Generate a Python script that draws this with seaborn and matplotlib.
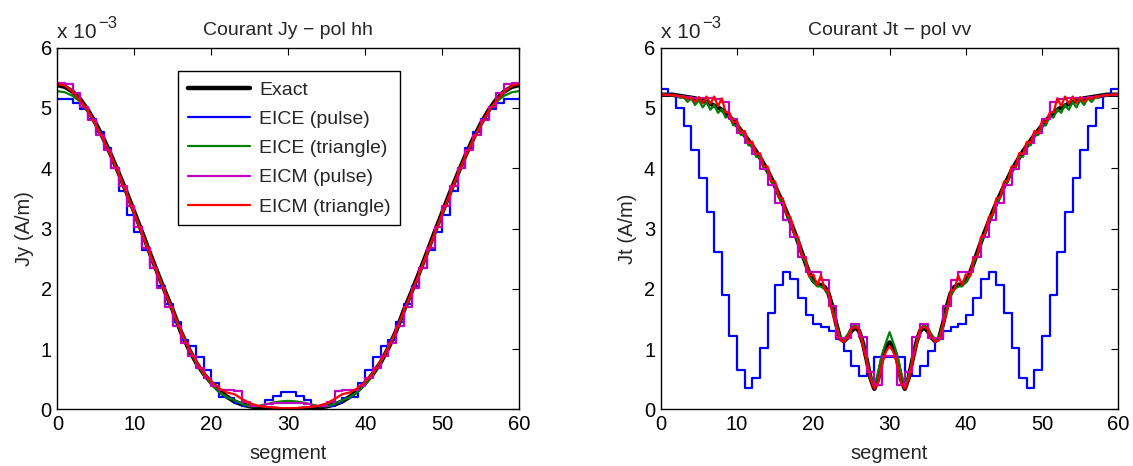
import matplotlib
matplotlib.use("Agg")
import matplotlib.pyplot as plt
import seaborn as sns

# ---------------- data (values in units of 1e-3 A/m) ----------------
nodes = list(range(61))                      # integer segment nodes 0..60
edges = list(range(61))                      # pulse edges
half_nodes = [i * 0.5 for i in range(121)]   # half-segment nodes 0..60

left_exact = [5.38, 5.35, 5.27, 5.14, 4.96, 4.74, 4.49, 4.21, 3.91, 3.60, 3.27, 2.94, 2.60, 2.27, 1.95, 1.64,
              1.30, 1.02, 0.78, 0.59, 0.44, 0.31, 0.21, 0.13, 0.08, 0.05, 0.03, 0.02, 0.01, 0.00, 0.00,
              0.00, 0.01, 0.02, 0.03, 0.05, 0.08, 0.13, 0.21, 0.31, 0.44, 0.59, 0.78, 1.02, 1.30, 1.64,
              1.95, 2.27, 2.60, 2.94, 3.27, 3.60, 3.91, 4.21, 4.49, 4.74, 4.96, 5.14, 5.27, 5.35, 5.38]
left_eice_pulse = [5.15, 5.15, 5.08, 4.98, 4.82, 4.60, 4.33, 4.00, 3.62, 3.22, 2.95, 2.65, 2.35, 2.05, 1.75,
                   1.45, 1.15, 1.05, 0.86, 0.65, 0.43, 0.20, 0.18, 0.10, 0.06, 0.06, 0.06, 0.15, 0.22, 0.28,
                   0.28, 0.22, 0.15, 0.06, 0.06, 0.06, 0.10, 0.18, 0.20, 0.43, 0.65, 0.86, 1.05, 1.15, 1.45,
                   1.75, 2.05, 2.35, 2.65, 2.95, 3.22, 3.62, 4.00, 4.33, 4.60, 4.82, 4.98, 5.08, 5.15, 5.15]
left_eice_tri = [5.28, 5.26, 5.20, 5.10, 4.94, 4.73, 4.48, 4.20, 3.90, 3.58, 3.25, 2.92, 2.58, 2.25, 1.93, 1.62,
                 1.30, 1.02, 0.78, 0.58, 0.42, 0.29, 0.20, 0.15, 0.09, 0.05, 0.05, 0.08, 0.11, 0.13, 0.14,
                 0.13, 0.11, 0.08, 0.05, 0.05, 0.09, 0.15, 0.20, 0.29, 0.42, 0.58, 0.78, 1.02, 1.30, 1.62,
                 1.93, 2.25, 2.58, 2.92, 3.25, 3.58, 3.90, 4.20, 4.48, 4.73, 4.94, 5.10, 5.20, 5.26, 5.28]
left_eicm_pulse = [5.42, 5.40, 5.25, 5.02, 4.80, 4.55, 4.30, 4.00, 3.70, 3.38, 3.02, 2.68, 2.35, 2.02, 1.70,
                   1.38, 1.10, 0.88, 0.68, 0.52, 0.38, 0.32, 0.32, 0.30, 0.12, 0.06, 0.06, 0.08, 0.10, 0.10,
                   0.10, 0.10, 0.08, 0.06, 0.06, 0.12, 0.30, 0.32, 0.32, 0.38, 0.52, 0.68, 0.88, 1.10, 1.38,
                   1.70, 2.02, 2.35, 2.68, 3.02, 3.38, 3.70, 4.00, 4.30, 4.55, 4.80, 5.02, 5.25, 5.40, 5.42]
left_eicm_tri = [5.40, 5.37, 5.27, 5.12, 4.95, 4.72, 4.47, 4.20, 3.90, 3.58, 3.25, 2.92, 2.59, 2.26, 1.94, 1.63,
                 1.31, 1.03, 0.80, 0.60, 0.46, 0.35, 0.28, 0.25, 0.17, 0.10, 0.06, 0.04, 0.03, 0.02, 0.02,
                 0.02, 0.03, 0.04, 0.06, 0.10, 0.17, 0.25, 0.28, 0.35, 0.46, 0.60, 0.80, 1.03, 1.31, 1.63,
                 1.94, 2.26, 2.59, 2.92, 3.25, 3.58, 3.90, 4.20, 4.47, 4.72, 4.95, 5.12, 5.27, 5.37, 5.40]

right_exact = [5.22, 5.22, 5.22, 5.22, 5.21, 5.20, 5.19, 5.18, 5.17, 5.16, 5.14, 5.12, 5.10, 5.07, 5.04, 5.01,
               4.97, 4.92, 4.86, 4.79, 4.71, 4.63, 4.55, 4.46, 4.37, 4.28, 4.18, 4.07, 3.96, 3.83, 3.70, 3.56,
               3.42, 3.27, 3.11, 2.95, 2.78, 2.60, 2.42, 2.25, 2.13, 2.08, 2.06, 2.03, 1.92, 1.70, 1.42, 1.18,
               1.13, 1.19, 1.30, 1.36, 1.30, 1.10, 0.82, 0.52, 0.34, 0.50, 0.82, 1.03, 1.11,
               1.03, 0.82, 0.50, 0.34, 0.52, 0.82, 1.10, 1.30, 1.36, 1.30, 1.19, 1.13, 1.18, 1.42, 1.70, 1.92,
               2.03, 2.06, 2.08, 2.13, 2.25, 2.42, 2.60, 2.78, 2.95, 3.11, 3.27, 3.42, 3.56, 3.70, 3.83, 3.96,
               4.07, 4.18, 4.28, 4.37, 4.46, 4.55, 4.63, 4.71, 4.79, 4.86, 4.92, 4.97, 5.01, 5.04, 5.07, 5.10,
               5.12, 5.14, 5.16, 5.17, 5.18, 5.19, 5.20, 5.21, 5.22, 5.22, 5.22, 5.22]
right_eice_pulse = [5.31, 5.21, 5.00, 4.70, 4.31, 3.84, 3.27, 2.61, 1.89, 1.21, 0.66, 0.35, 0.52, 1.01, 1.59,
                    2.07, 2.27, 2.16, 1.85, 1.57, 1.42, 1.37, 1.30, 1.16, 0.97, 0.72, 0.56, 0.62, 0.86, 0.86,
                    0.86, 0.86, 0.62, 0.56, 0.72, 0.97, 1.16, 1.30, 1.37, 1.42, 1.57, 1.85, 2.16, 2.27, 2.07,
                    1.59, 1.01, 0.52, 0.35, 0.66, 1.21, 1.89, 2.61, 3.27, 3.84, 4.31, 4.70, 5.00, 5.21, 5.31]
right_eice_tri = [5.23, 5.22, 5.22, 5.21, 5.21, 5.17, 5.18, 5.10, 5.16, 5.05, 5.13, 5.01, 5.10, 4.97, 5.05, 4.92,
                  4.98, 4.84, 4.87, 4.71, 4.72, 4.55, 4.56, 4.38, 4.38, 4.19, 4.19, 3.99, 3.97, 3.77, 3.71, 3.51,
                  3.42, 3.23, 3.11, 2.91, 2.78, 2.57, 2.42, 2.21, 2.11, 2.04, 2.04, 1.99, 1.90, 1.68, 1.42, 1.20,
                  1.16, 1.24, 1.36, 1.40, 1.33, 1.10, 0.82, 0.55, 0.38, 0.62, 0.90, 1.10, 1.28,
                  1.10, 0.90, 0.62, 0.38, 0.55, 0.82, 1.10, 1.33, 1.40, 1.36, 1.24, 1.16, 1.20, 1.42, 1.68, 1.90,
                  1.99, 2.04, 2.04, 2.11, 2.21, 2.42, 2.57, 2.78, 2.91, 3.11, 3.23, 3.42, 3.51, 3.71, 3.77, 3.97,
                  3.99, 4.19, 4.19, 4.38, 4.38, 4.56, 4.55, 4.72, 4.71, 4.87, 4.84, 4.98, 4.92, 5.05, 4.97, 5.10,
                  5.01, 5.13, 5.05, 5.16, 5.10, 5.18, 5.17, 5.21, 5.21, 5.22, 5.22, 5.23]
right_eicm_pulse = [5.22, 5.21, 5.20, 5.18, 5.17, 5.16, 5.16, 5.15, 5.10, 4.82, 4.58, 4.42, 4.24, 3.99, 3.72,
                    3.43, 3.14, 2.86, 2.52, 2.28, 2.27, 2.15, 1.71, 1.18, 1.18, 1.41, 1.20, 0.62, 0.40, 0.88,
                    0.88, 0.40, 0.62, 1.20, 1.41, 1.18, 1.18, 1.71, 2.15, 2.27, 2.28, 2.52, 2.86, 3.14, 3.43,
                    3.72, 3.99, 4.24, 4.42, 4.58, 4.82, 5.10, 5.15, 5.16, 5.16, 5.17, 5.18, 5.20, 5.21, 5.22]
right_eicm_tri = [5.23, 5.22, 5.22, 5.21, 5.21, 5.19, 5.19, 5.15, 5.17, 5.10, 5.18, 5.08, 5.19, 5.07, 5.19, 5.03,
                  5.16, 4.93, 4.92, 4.76, 4.78, 4.59, 4.62, 4.42, 4.44, 4.24, 4.25, 4.03, 4.03, 3.79, 3.78, 3.52,
                  3.50, 3.23, 3.19, 2.91, 2.86, 2.56, 2.49, 2.20, 2.24, 2.06, 2.22, 1.99, 1.96, 1.60, 1.40, 1.15,
                  1.12, 1.20, 1.33, 1.37, 1.33, 1.05, 0.80, 0.50, 0.34, 0.45, 0.75, 0.95, 1.05,
                  0.95, 0.75, 0.45, 0.34, 0.50, 0.80, 1.05, 1.33, 1.37, 1.33, 1.20, 1.12, 1.15, 1.40, 1.60, 1.96,
                  1.99, 2.22, 2.06, 2.24, 2.20, 2.49, 2.56, 2.86, 2.91, 3.19, 3.23, 3.50, 3.52, 3.78, 3.79, 4.03,
                  4.03, 4.25, 4.24, 4.44, 4.42, 4.62, 4.59, 4.78, 4.76, 4.92, 4.93, 5.16, 5.03, 5.19, 5.07, 5.19,
                  5.08, 5.18, 5.10, 5.17, 5.15, 5.19, 5.19, 5.21, 5.21, 5.22, 5.22, 5.23]

labels = ["Exact", "EICE (pulse)", "EICE (triangle)", "EICM (pulse)", "EICM (triangle)"]
colors = ["#000000", "#0000FF", "#008000", "#BF00BF", "#FF0000"]

for name, arr, n in [("left_exact", left_exact, 61), ("left_eice_pulse", left_eice_pulse, 60),
                     ("left_eice_tri", left_eice_tri, 61), ("left_eicm_pulse", left_eicm_pulse, 60),
                     ("left_eicm_tri", left_eicm_tri, 61), ("right_exact", right_exact, 121),
                     ("right_eice_pulse", right_eice_pulse, 60), ("right_eice_tri", right_eice_tri, 121),
                     ("right_eicm_pulse", right_eicm_pulse, 60), ("right_eicm_tri", right_eicm_tri, 121)]:
    assert len(arr) == n, f"{name} has {len(arr)} values, expected {n}"

# ---------------- style ----------------
sns.set_style("white")
plt.rcParams['font.family'] = ['Liberation Sans', 'DejaVu Sans']

FS = 14

fig = plt.figure(figsize=(11.33, 4.66), dpi=100)
ax1 = fig.add_axes([0.0506, 0.1217, 0.4078, 0.7759])
ax2 = fig.add_axes([0.5832, 0.1217, 0.4039, 0.7759])


def pulse(ax, vals, color, label):
    sns.lineplot(x=edges, y=list(vals) + [vals[-1]], ax=ax, color=color, lw=1.6,
                 drawstyle="steps-post", label=label, legend=False, sort=True)


def curve(ax, xs, vals, color, label, lw=1.6):
    sns.lineplot(x=xs, y=vals, ax=ax, color=color, lw=lw, label=label, legend=False)


curve(ax1, nodes, left_exact, colors[0], labels[0], lw=3.2)
pulse(ax1, left_eice_pulse, colors[1], labels[1])
curve(ax1, nodes, left_eice_tri, colors[2], labels[2])
pulse(ax1, left_eicm_pulse, colors[3], labels[3])
curve(ax1, nodes, left_eicm_tri, colors[4], labels[4])

curve(ax2, half_nodes, right_exact, colors[0], labels[0], lw=3.2)
pulse(ax2, right_eice_pulse, colors[1], labels[1])
curve(ax2, half_nodes, right_eice_tri, colors[2], labels[2])
pulse(ax2, right_eicm_pulse, colors[3], labels[3])
curve(ax2, half_nodes, right_eicm_tri, colors[4], labels[4])

titles = ["Courant Jy \u2212 pol hh", "Courant Jt \u2212 pol vv"]
ylabels = ["Jy (A/m)", "Jt (A/m)"]
for ax, t, yl in zip([ax1, ax2], titles, ylabels):
    ax.set_xlim(0, 60)
    ax.set_ylim(0, 6)
    ax.set_xticks([0, 10, 20, 30, 40, 50, 60])
    ax.set_yticks([0, 1, 2, 3, 4, 5, 6])
    ax.tick_params(direction="in", top=True, right=True, length=5, width=0.8,
                   labelsize=FS + 0.5, pad=4, colors="black")
    for s in ax.spines.values():
        s.set_color("black")
        s.set_linewidth(1.0)
    ax.set_title(t, fontsize=FS, pad=9)
    ax.set_xlabel("segment", fontsize=FS + 0.5, labelpad=7)
    ax.set_ylabel(yl, fontsize=FS + 0.5, labelpad=5)
    base = ax.text(0.0, 1.015, "x 10", transform=ax.transAxes, ha="left", va="bottom", fontsize=FS + 1)
    ax.annotate("\u22123", xy=(1.0, 0.62), xycoords=base, xytext=(1, 0), textcoords="offset points",
                ha="left", va="bottom", fontsize=FS - 2)

handles, labs = ax1.get_legend_handles_labels()
leg = ax1.legend(handles, labs, loc="upper left", bbox_to_anchor=(0.262, 0.935), fontsize=FS,
                 frameon=True, fancybox=False, edgecolor="black", framealpha=1, handlelength=3.2,
                 borderpad=0.5, labelspacing=0.6, handletextpad=0.45, borderaxespad=0)
leg.get_frame().set_linewidth(1.0)

fig.savefig("out.png", dpi=100)
